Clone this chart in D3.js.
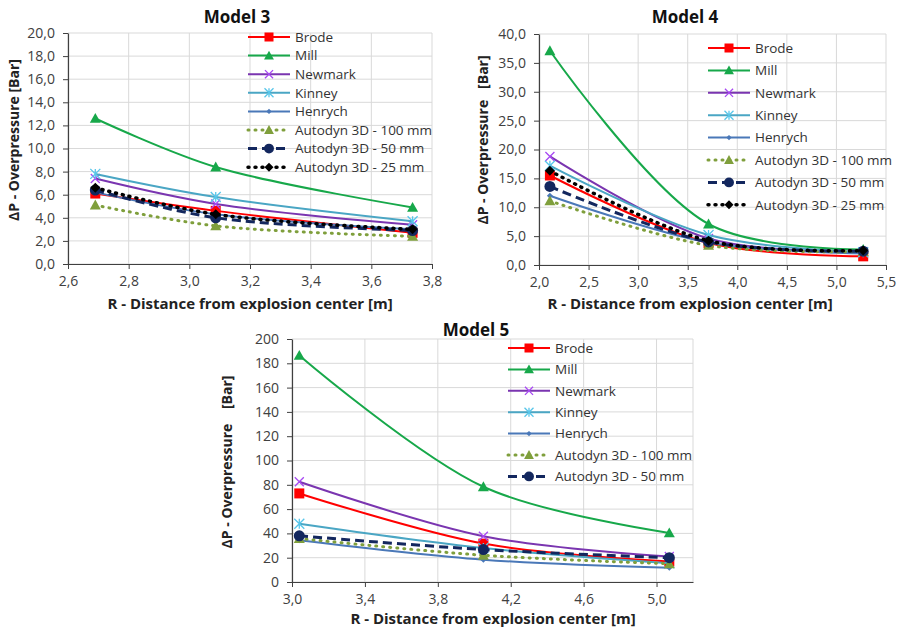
<!DOCTYPE html>
<html><head><meta charset="utf-8">
<script src="https://cdn.jsdelivr.net/npm/d3@7"></script>
<style>
body{margin:0;background:#fff;}
text{font-family:"Open Sans",sans-serif;}
</style></head>
<body><svg id="c" width="897" height="629"></svg>
<script>
// ---------- DATA ----------
const seriesNames = ["Brode","Mill","Newmark","Kinney","Henrych","Autodyn 3D - 100 mm","Autodyn 3D - 50 mm","Autodyn 3D - 25 mm"];

// Model 3
const model3Distance = [2.69, 3.087, 3.736];
const model3Brode    = [6.1, 4.6, 2.7];
const model3Mill     = [12.6, 8.4, 4.9];
const model3Newmark  = [7.4, 5.2, 3.4];
const model3Kinney   = [7.8, 5.8, 3.7];
const model3Henrych  = [6.2, 4.3, 3.0];
const model3A100     = [5.1, 3.3, 2.4];
const model3A50      = [6.4, 4.0, 2.9];
const model3A25      = [6.6, 4.3, 3.0];
const model3YTicks   = [0,2,4,6,8,10,12,14,16,18,20];
const model3XTicks   = [2.6,2.8,3.0,3.2,3.4,3.6,3.8];

// Model 4
const model4Distance = [2.11, 3.71, 5.27];
const model4Brode    = [15.5, 3.8, 1.5];
const model4Mill     = [37.1, 7.1, 2.7];
const model4Newmark  = [18.8, 4.6, 2.3];
const model4Kinney   = [17.2, 5.2, 2.2];
const model4Henrych  = [12.0, 3.9, 2.0];
const model4A100     = [11.1, 3.4, 2.3];
const model4A50      = [13.6, 4.0, 2.4];
const model4A25      = [16.3, 4.2, 2.5];
const model4YTicks   = [0,5,10,15,20,25,30,35,40];
const model4XTicks   = [2.0,2.5,3.0,3.5,4.0,4.5,5.0,5.5];

// Model 5
const model5Distance = [3.04, 4.05, 5.07];
const model5Brode    = [72.9, 31.6, 16.8];
const model5Mill     = [186.5, 78.4, 40.4];
const model5Newmark  = [82.5, 37.7, 21.0];
const model5Kinney   = [48.0, 28.0, 15.5];
const model5Henrych  = [34.4, 18.4, 11.8];
const model5A100     = [35.8, 22.0, 15.0];
const model5A50      = [38.0, 26.7, 20.0];
const model5YTicks   = [0,20,40,60,80,100,120,140,160,180,200];
const model5XTicks   = [3.0,3.4,3.8,4.2,4.6,5.0];

// ---------- STYLES ----------
const styles = [
  {color:"#ff0000", dash:null, width:2, marker:"square", size:10},
  {color:"#17a84a", dash:null, width:2, marker:"triangle", size:11},
  {color:"#7a35b0", dash:null, width:2, marker:"x", size:9},
  {color:"#4aa6c4", dash:null, width:2, marker:"asterisk", size:10},
  {color:"#4a78b8", dash:null, width:2, marker:"diamond", size:6},
  {color:"#7f9f3c", dash:"1,6", width:3, marker:"triangle", size:11},
  {color:"#13275e", dash:"9,5", width:3, marker:"circle", size:11},
  {color:"#000000", dash:"1,6", width:3.5, marker:"diamond", size:10}
];

const svg = d3.select("#c");
const fmt = d => d3.format(".1f")(d).replace(".", ",");
const fmtInt = d => String(d);

function drawMarker(g, type, x, y, s, color){
  const h = s/2;
  if(type==="square"){
    g.append("rect").attr("x",x-h).attr("y",y-h).attr("width",s).attr("height",s).attr("fill",color);
  } else if(type==="triangle"){
    g.append("path").attr("d",`M${x},${y-h}L${x+h},${y+h*0.8}L${x-h},${y+h*0.8}Z`).attr("fill",color);
  } else if(type==="x"){
    g.append("path").attr("d",`M${x-h},${y-h}L${x+h},${y+h}M${x-h},${y+h}L${x+h},${y-h}`).attr("stroke",d3.color(color).brighter(0.9)).attr("stroke-width",1.3);
  } else if(type==="asterisk"){
    g.append("path").attr("d",`M${x-h},${y-h}L${x+h},${y+h}M${x-h},${y+h}L${x+h},${y-h}M${x},${y-h}L${x},${y+h}`).attr("stroke",d3.color(color).brighter(0.5)).attr("stroke-width",1.3);
  } else if(type==="diamond"){
    g.append("path").attr("d",`M${x},${y-h}L${x+h},${y}L${x},${y+h}L${x-h},${y}Z`).attr("fill",color);
  } else if(type==="circle"){
    g.append("circle").attr("cx",x).attr("cy",y).attr("r",h).attr("fill",color);
  }
}

function panel(cfg){
  const g = svg.append("g");
  const x = d3.scaleLinear().domain(cfg.xDomain).range([cfg.left, cfg.right]);
  const y = d3.scaleLinear().domain(cfg.yDomain).range([cfg.bottom, cfg.top]);

  // grid
  const grid = g.append("g");
  cfg.yTicks.forEach(t=>{
    grid.append("line").attr("x1",cfg.left).attr("x2",cfg.right).attr("y1",y(t)).attr("y2",y(t)).attr("stroke","#d9d9d9").attr("stroke-width",1);
  });
  cfg.xGrid.forEach(t=>{
    grid.append("line").attr("y1",cfg.top).attr("y2",cfg.bottom).attr("x1",x(t)).attr("x2",x(t)).attr("stroke","#d9d9d9").attr("stroke-width",1);
  });

  // axes
  const ya = g.append("g").attr("transform",`translate(${cfg.left},0)`)
    .call(d3.axisLeft(y).tickValues(cfg.yTicks).tickFormat(cfg.yFmt).tickSize(5).tickSizeOuter(0).tickPadding(8));
  const xa = g.append("g").attr("transform",`translate(0,${cfg.bottom})`)
    .call(d3.axisBottom(x).tickValues(cfg.xTicks).tickFormat(fmt).tickSize(5).tickSizeOuter(0).tickPadding(7));
  [ya,xa].forEach(a=>{
    a.selectAll("path").attr("stroke","#404040").attr("stroke-width",1.2);
    a.selectAll("line").attr("stroke","#404040");
    a.selectAll("text").attr("font-family","Open Sans").attr("font-size",14).attr("fill","#404040");
  });

  // series
  const line = d3.line().x(d=>x(d[0])).y(d=>y(d[1])).curve(d3.curveCatmullRom.alpha(0.5));
  cfg.series.forEach((vals,i)=>{
    const st = styles[i];
    const pts = cfg.xs.map((xv,j)=>[xv, vals[j]]);
    const p = g.append("path").attr("d",line(pts)).attr("fill","none").attr("stroke",st.color)
      .attr("stroke-width",st.width).attr("stroke-linecap", st.dash && st.dash.startsWith("1,")?"round":"butt");
    if(st.dash) p.attr("stroke-dasharray",st.dash);
    const mg = g.append("g");
    pts.forEach(pt=>drawMarker(mg, st.marker, x(pt[0]), y(pt[1]), st.size, st.color));
  });

  // legend
  const lg = g.append("g");
  cfg.series.forEach((vals,i)=>{
    const st = styles[i];
    const ly = cfg.legY + i*cfg.legStep;
    const l = lg.append("line").attr("x1",cfg.legX).attr("x2",cfg.legX+42).attr("y1",ly).attr("y2",ly)
      .attr("stroke",st.color).attr("stroke-width",st.width).attr("stroke-linecap", st.dash && st.dash.startsWith("1,")?"round":"butt");
    if(st.dash) l.attr("stroke-dasharray",st.dash);
    drawMarker(lg, st.marker, cfg.legX+21, ly, st.size*0.9, st.color);
    lg.append("text").attr("x",cfg.legX+47).attr("y",ly).attr("dy","0.35em")
      .attr("font-size",13.5).attr("fill","#333").text(seriesNames[i]);
  });

  // titles
  g.append("text").attr("x",cfg.titleX).attr("y",cfg.titleY).attr("text-anchor","middle")
    .attr("font-weight","bold").attr("font-size",17).attr("fill","#111").text(cfg.title);
  g.append("text").attr("x",cfg.xLabX).attr("y",cfg.xLabY).attr("text-anchor","middle")
    .attr("font-weight","bold").attr("font-size",15).attr("fill","#222").text("R - Distance from explosion center [m]");
  g.append("text").attr("transform",`translate(${cfg.yLabX},${cfg.yLabY}) rotate(-90)`).attr("text-anchor","middle")
    .attr("font-weight","bold").attr("font-size",14).attr("fill","#222").style("white-space","pre").text(cfg.yLab);
}

panel({
  title:"Model 3", titleX:237, titleY:23,
  left:68, right:432, top:33, bottom:264,
  xDomain:[2.6,3.8], yDomain:[0,20],
  xTicks:model3XTicks, xGrid:model3XTicks, yTicks:model3YTicks, yFmt:fmt,
  xs:model3Distance,
  series:[model3Brode,model3Mill,model3Newmark,model3Kinney,model3Henrych,model3A100,model3A50,model3A25],
  legX:248, legY:37, legStep:18.6,
  xLabX:250, xLabY:309, yLabX:19, yLabY:140, yLab:"ΔP - Overpressure [Bar]"
});

panel({
  title:"Model 4", titleX:685, titleY:23,
  left:539, right:886, top:34, bottom:265,
  xDomain:[2.0,5.5], yDomain:[0,40],
  xTicks:model4XTicks, xGrid:model4XTicks, yTicks:model4YTicks, yFmt:fmt,
  xs:model4Distance,
  series:[model4Brode,model4Mill,model4Newmark,model4Kinney,model4Henrych,model4A100,model4A50,model4A25],
  legX:708, legY:48, legStep:22.4,
  xLabX:690, xLabY:309, yLabX:488, yLabY:140, yLab:"ΔP - Overpressure   [Bar]"
});

panel({
  title:"Model 5", titleX:476, titleY:336,
  left:292, right:693, top:339, bottom:582,
  xDomain:[3.0,5.2], yDomain:[0,200],
  xTicks:model5XTicks, xGrid:model5XTicks.concat([5.2]), yTicks:model5YTicks, yFmt:fmtInt,
  xs:model5Distance,
  series:[model5Brode,model5Mill,model5Newmark,model5Kinney,model5Henrych,model5A100,model5A50],
  legX:508, legY:348, legStep:21.4,
  xLabX:493, xLabY:624, yLabX:232, yLabY:462, yLab:"ΔP - Overpressure    [Bar]"
});
</script></body></html>
